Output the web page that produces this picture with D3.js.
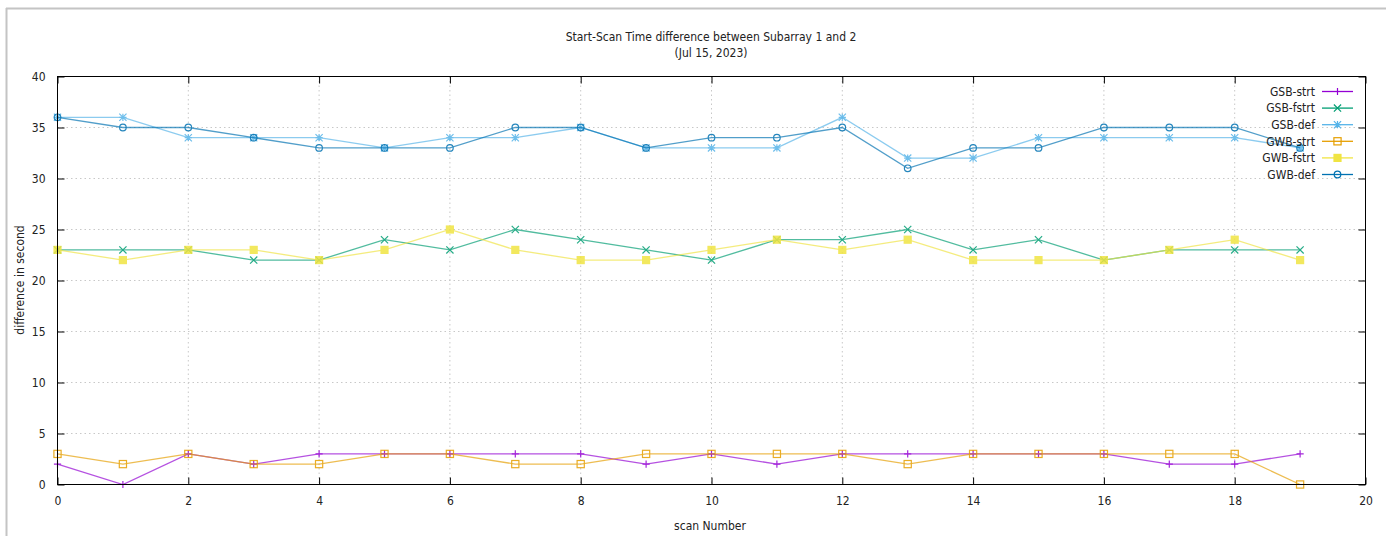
<!DOCTYPE html>
<html>
<head>
<meta charset="utf-8">
<script src="https://cdn.jsdelivr.net/npm/d3@7"></script>
<style>
  html, body { margin: 0; padding: 0; background: #fff; }
  svg { display: block; font-family: "DejaVu Sans Condensed", "DejaVu Sans", sans-serif; }
</style>
</head>
<body>
<svg id="chart" width="1386" height="536"></svg>
<script>
// Scan index along the x axis
const scans = d3.range(0, 20);

// Start-scan time difference (seconds) per series
const gsbStrt  = [2, 0, 3, 2, 3, 3, 3, 3, 3, 2, 3, 2, 3, 3, 3, 3, 3, 2, 2, 3];
const gsbFstrt = [23, 23, 23, 22, 22, 24, 23, 25, 24, 23, 22, 24, 24, 25, 23, 24, 22, 23, 23, 23];
const gsbDef   = [36, 36, 34, 34, 34, 33, 34, 34, 35, 33, 33, 33, 36, 32, 32, 34, 34, 34, 34, 33];
const gwbStrt  = [3, 2, 3, 2, 2, 3, 3, 2, 2, 3, 3, 3, 3, 2, 3, 3, 3, 3, 3, 0];
const gwbFstrt = [23, 22, 23, 23, 22, 23, 25, 23, 22, 22, 23, 24, 23, 24, 22, 22, 22, 23, 24, 22];
const gwbDef   = [36, 35, 35, 34, 33, 33, 33, 35, 35, 33, 34, 34, 35, 31, 33, 33, 35, 35, 35, 33];

const seriesNames = ["GSB-strt", "GSB-fstrt", "GSB-def", "GWB-strt", "GWB-fstrt", "GWB-def"];
const seriesValues = [gsbStrt, gsbFstrt, gsbDef, gwbStrt, gwbFstrt, gwbDef];
const seriesColors = ["#9400d3", "#009e73", "#56b4e9", "#e69f00", "#f0e442", "#0072b2"];
const seriesMarkers = ["plus", "cross", "star", "square", "filledSquare", "circle"];

const xTicks = [0, 2, 4, 6, 8, 10, 12, 14, 16, 18, 20];
const yTicks = [0, 5, 10, 15, 20, 25, 30, 35, 40];

const titleLines = ["Start-Scan Time difference between Subarray 1 and 2", "(Jul 15, 2023)"];
const xLabel = "scan Number";
const yLabel = "difference in second";

const svg = d3.select("#chart");
const W = 1386, H = 536;
const plot = { left: 57.5, right: 1365.5, top: 76.5, bottom: 484.5 };

// Window border around the canvas
svg.append("line").attr("x1", 6).attr("x2", W).attr("y1", 8.5).attr("y2", 8.5)
  .attr("stroke", "#c4c4c4").attr("stroke-width", 2);
svg.append("line").attr("x1", 6.5).attr("x2", 6.5).attr("y1", 8).attr("y2", H)
  .attr("stroke", "#c4c4c4").attr("stroke-width", 2);

const x = d3.scaleLinear().domain([0, 20]).range([plot.left, plot.right]);
const y = d3.scaleLinear().domain([0, 40]).range([plot.bottom, plot.top]);

// Dotted grid
const grid = svg.append("g");
grid.selectAll("line.gx").data(xTicks.filter(t => t > 0 && t < 20)).join("line")
  .attr("x1", d => x(d)).attr("x2", d => x(d))
  .attr("y1", plot.top).attr("y2", plot.bottom)
  .attr("stroke", "#c8c8c8").attr("stroke-width", 1).attr("stroke-dasharray", "1.5,3");
grid.selectAll("line.gy").data(yTicks.filter(t => t > 0 && t < 40)).join("line")
  .attr("x1", plot.left).attr("x2", plot.right)
  .attr("y1", d => y(d)).attr("y2", d => y(d))
  .attr("stroke", "#c8c8c8").attr("stroke-width", 1).attr("stroke-dasharray", "1.5,3");

// Axes: inward ticks, mirrored on top and right
const tickLen = 7;
const axisBottom = d3.axisBottom(x).tickValues(xTicks).tickSizeInner(-tickLen).tickSizeOuter(0).tickPadding(12);
const axisLeft = d3.axisLeft(y).tickValues(yTicks).tickSizeInner(-tickLen).tickSizeOuter(0).tickPadding(12);
const axisTop = d3.axisTop(x).tickValues(xTicks).tickSizeInner(-tickLen).tickSizeOuter(0).tickFormat("");
const axisRight = d3.axisRight(y).tickValues(yTicks).tickSizeInner(-tickLen).tickSizeOuter(0).tickFormat("");

function styleAxis(g) {
  g.select(".domain").remove();
  g.selectAll(".tick line").attr("stroke", "#000").attr("stroke-width", 1);
  g.selectAll(".tick text").attr("fill", "#222").attr("font-size", 12)
    .attr("font-family", "'DejaVu Sans Condensed', 'DejaVu Sans', sans-serif");
}
svg.append("g").attr("transform", `translate(0,${plot.bottom})`).call(axisBottom).call(styleAxis);
svg.append("g").attr("transform", `translate(${plot.left},0)`).call(axisLeft).call(styleAxis);
svg.append("g").attr("transform", `translate(0,${plot.top})`).call(axisTop).call(styleAxis);
svg.append("g").attr("transform", `translate(${plot.right},0)`).call(axisRight).call(styleAxis);

// Marker shapes
function drawMarker(g, type, color, cx, cy) {
  const s = 3.6;
  if (type === "plus") {
    g.append("path").attr("d", `M${cx - s},${cy}H${cx + s}M${cx},${cy - s}V${cy + s}`)
      .attr("stroke", color).attr("stroke-width", 1.2).attr("fill", "none");
  } else if (type === "cross") {
    g.append("path").attr("d", `M${cx - s},${cy - s}L${cx + s},${cy + s}M${cx - s},${cy + s}L${cx + s},${cy - s}`)
      .attr("stroke", color).attr("stroke-width", 1.2).attr("fill", "none");
  } else if (type === "star") {
    g.append("path").attr("d", `M${cx - s},${cy}H${cx + s}M${cx},${cy - s}V${cy + s}M${cx - s},${cy - s}L${cx + s},${cy + s}M${cx - s},${cy + s}L${cx + s},${cy - s}`)
      .attr("stroke", color).attr("stroke-width", 1.2).attr("fill", "none");
  } else if (type === "square") {
    g.append("rect").attr("x", cx - s).attr("y", cy - s).attr("width", 2 * s).attr("height", 2 * s)
      .attr("stroke", color).attr("stroke-width", 1.2).attr("fill", "none");
  } else if (type === "filledSquare") {
    g.append("rect").attr("x", cx - s - 0.5).attr("y", cy - s - 0.5).attr("width", 2 * s + 1).attr("height", 2 * s + 1)
      .attr("fill", color);
  } else if (type === "circle") {
    g.append("circle").attr("cx", cx).attr("cy", cy).attr("r", s - 0.3)
      .attr("stroke", color).attr("stroke-width", 1.2).attr("fill", "none");
  }
}

const line = d3.line().x((d, i) => x(scans[i])).y(d => y(d));

// Series lines and point markers
seriesValues.forEach((vals, k) => {
  const g = svg.append("g").attr("opacity", 0.85);
  g.append("path").datum(vals).attr("d", line)
    .attr("fill", "none").attr("stroke", seriesColors[k]).attr("stroke-width", 1.3)
    .attr("stroke-opacity", 0.8);
  vals.forEach((v, i) => drawMarker(g, seriesMarkers[k], seriesColors[k], x(scans[i]), y(v)));
});

// Legend, top right inside the plot
const legend = svg.append("g");
seriesNames.forEach((name, k) => {
  const ly = 91.5 + k * 16.6;
  legend.append("text").attr("x", 1315).attr("y", ly).attr("dy", "0.35em")
    .attr("text-anchor", "end").attr("font-size", 12).attr("fill", "#222").text(name);
  legend.append("line").attr("x1", 1322).attr("x2", 1353).attr("y1", ly).attr("y2", ly)
    .attr("stroke", seriesColors[k]).attr("stroke-width", 1.3);
  drawMarker(legend, seriesMarkers[k], seriesColors[k], 1337.5, ly);
});

// Plot frame
svg.append("rect").attr("x", plot.left).attr("y", plot.top)
  .attr("width", plot.right - plot.left).attr("height", plot.bottom - plot.top)
  .attr("fill", "none").attr("stroke", "#000").attr("stroke-width", 1);

// Title
titleLines.forEach((t, i) => {
  svg.append("text").attr("x", 711).attr("y", 41 + i * 16).attr("text-anchor", "middle")
    .attr("font-size", 12).attr("fill", "#222").text(t);
});

// Axis labels
svg.append("text").attr("x", 710).attr("y", 530).attr("text-anchor", "middle")
  .attr("font-size", 12).attr("fill", "#222").text(xLabel);
svg.append("text").attr("transform", "translate(24,280) rotate(-90)").attr("text-anchor", "middle")
  .attr("font-size", 12).attr("fill", "#222").text(yLabel);
</script>
</body>
</html>
